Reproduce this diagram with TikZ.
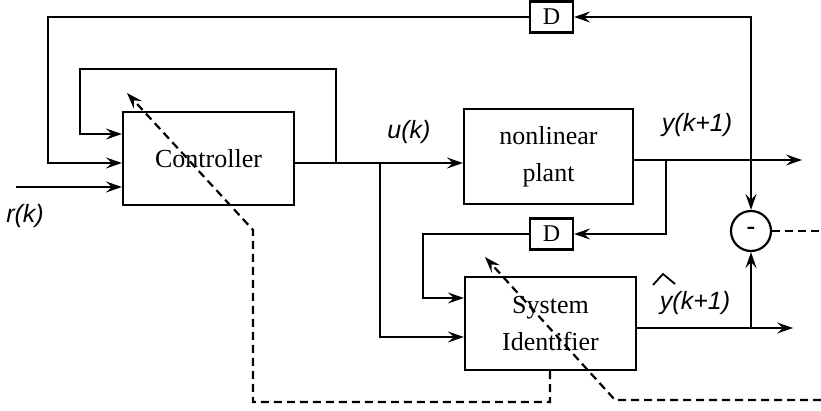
\documentclass[tikz,border=0pt]{standalone}
\usepackage{fontspec}
\setmainfont{Liberation Serif}
\setsansfont{Liberation Sans}
\usetikzlibrary{arrows.meta}
\begin{document}
\begin{tikzpicture}[x=1pt,y=-1pt,line width=2.2pt,
  blk/.style={draw,rectangle,inner sep=0pt,align=center,font=\fontsize{26}{37}\selectfont},
  dbox/.style={draw,rectangle,inner sep=0pt,minimum width=43pt,minimum height=31pt,font=\fontsize{24}{26}\selectfont},
  lbl/.style={font=\fontsize{25}{28}\selectfont\sffamily\itshape,inner sep=0pt},
  arr/.style={-{Stealth[length=16pt,width=11pt,inset=6pt]}},
  darr/.style={dashed,dash pattern=on 8pt off 5pt,-{Stealth[length=16pt,width=11pt,inset=6pt]}},
  dsh/.style={dashed,dash pattern=on 8pt off 5pt}]
\useasboundingbox (0,0) rectangle (821,411);

\node[blk,minimum width=171pt,minimum height=93pt] (ctrl) at (208.5,158.5) {Controller};
\node[blk,minimum width=169pt,minimum height=95pt] (plant) at (548.5,156.5) {nonlinear\\plant};
\node[blk,minimum width=171pt,minimum height=93pt] (sysid) at (550.5,323.5) {System\\Identifier};
\node[dbox] (dtop) at (551.5,17) {D};
\node[dbox] (dlow) at (551.5,234) {D};
\node[draw,circle,minimum size=40pt,inner sep=0pt,font=\fontsize{26}{26}\selectfont\bfseries] (sum) at (751,231) {\raisebox{-2pt}{-}};

\coordinate (j1) at (336,163);
\coordinate (j2) at (380,163);
\coordinate (jy) at (751,160);
\coordinate (jp) at (666,160);
\coordinate (js) at (751,328);

% controller output and branches
\draw (ctrl.east |- j1) -- (j1) -- (j2);
\draw[arr] (j2) -- (plant.west |- j2);
\draw[arr] (j1) -- (336,69) -- (80,69) -- (80,134) -- (ctrl.west |- 80,134);
\draw[arr] (j2) -- (380,337) -- (sysid.west |- 380,337);

% outer feedback through top D
\draw[arr] (dtop.west) -- (48,17) -- (48,163) -- (ctrl.west |- 48,163);
\draw[arr] (jy) -- (751,17) -- (dtop.east);
\draw[arr] (jy) -- (sum.north);

% reference input
\draw[arr] (16,187) -- (ctrl.west |- 16,187);

% plant output
\draw[arr] (plant.east |- jy) -- (802,160);
\draw[arr] (jp) -- (666,234) -- (dlow.east);
\draw[arr] (dlow.west) -- (423,234) -- (423,298) -- (sysid.west |- 423,298);

% identifier output
\draw[arr] (sysid.east |- js) -- (793,328);
\draw[arr] (js) -- (sum.south);

% dashed lines
\draw[dsh] (sum.east) -- (821,231);
\draw[darr] (sysid.south -| 550,0) -- (550,402) -- (253,402) -- (253,230) -- (127,93);
\draw[darr] (821,400) -- (615,400) -- (485,257);

% labels
\node[lbl] (lu) at (409,132) {u(k)};
\node[lbl] (ly) at (697,125) {y(k+1)};
\node[lbl] (lyh) at (695,303) {y(k+1)};
\draw[line width=1.8pt] (653,285) -- (663,274) -- (675,284);
\node[lbl] (lr) at (25,216) {r(k)};
\end{tikzpicture}
\end{document}
